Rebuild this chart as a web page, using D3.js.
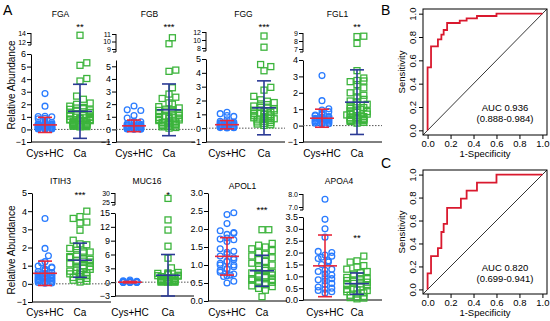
<!DOCTYPE html>
<html>
<head>
<meta charset="utf-8">
<script src="https://cdn.jsdelivr.net/npm/d3@7"></script>
<style>
  body { margin: 0; background: #fff; }
  text { font-family: "Liberation Sans", Arial, sans-serif; }
</style>
</head>
<body>
<div id="container"></div>
<script>
// data
const proteins = ['FGA', 'FGB', 'FGG', 'FGL1', 'ITIH3', 'MUC16', 'APOL1', 'APOA4']
const groups = ['Cys+HC', 'Ca']
const stars = ['**', '***', '***', '**', '***', '*', '***', '**']

const fgaCys = [2.85, 1.85, 1.05, 1.02, 1.0, 0.88, 0.85, 0.6, 0.55, 0.5, 0.45, 0.42, 0.4, 0.38, 0.35, 0.32, 0.3, 0.28, 0.25, 0.22, 0.2, 0.18, 0.15, 0.12, 0.1, 0.08, 0.06, 0.05, 0.04, 0.03, 0.02]
const fgaCa = [13.5, 5.3, 5.1, 4.05, 3.85, 2.65, 2.4, 2.1, 2.0, 1.85, 1.75, 1.7, 1.65, 1.6, 1.55, 1.45, 1.4, 1.35, 1.3, 1.25, 1.2, 1.15, 1.1, 1.05, 1.0, 0.95, 0.9, 0.85, 0.8, 0.78, 0.75, 0.7, 0.68, 0.65, 0.6, 0.58, 0.55, 0.52, 0.5, 0.48, 0.45, 0.42, 0.4, 0.38, 0.35, 0.32, 0.3, 0.28, 0.25, 0.22, 0.2]
const fgbCys = [1.85, 1.55, 1.5, 1.1, 0.9, 0.65, 0.6, 0.55, 0.45, 0.4, 0.38, 0.35, 0.32, 0.3, 0.28, 0.25, 0.22, 0.2, 0.18, 0.15, 0.12, 0.1, 0.08, 0.06, 0.05, 0.04, 0.03, 0.02, 0.01]
const fgbCa = [10.5, 9.7, 4.7, 4.6, 3.3, 2.8, 2.55, 2.45, 2.1, 2.0, 1.8, 1.7, 1.6, 1.55, 1.5, 1.45, 1.4, 1.3, 1.25, 1.2, 1.1, 1.05, 1.0, 0.95, 0.9, 0.85, 0.8, 0.75, 0.7, 0.65, 0.6, 0.58, 0.55, 0.5, 0.45, 0.42, 0.4, 0.35, 0.3, 0.28, 0.25, 0.2, 0.15, 0.1]
const fggCys = [1.15, 1.05, 0.92, 0.85, 0.6, 0.5, 0.45, 0.4, 0.38, 0.35, 0.32, 0.3, 0.28, 0.25, 0.22, 0.2, 0.18, 0.15, 0.12, 0.1, 0.08, 0.06, 0.05, 0.04, 0.03, 0.02]
const fggCa = [11.0, 8.2, 4.6, 4.45, 4.15, 2.95, 2.75, 2.3, 2.05, 1.95, 1.85, 1.75, 1.7, 1.6, 1.5, 1.45, 1.4, 1.3, 1.25, 1.2, 1.15, 1.1, 1.05, 1.0, 0.95, 0.9, 0.85, 0.8, 0.75, 0.7, 0.68, 0.65, 0.6, 0.55, 0.5, 0.45, 0.4, 0.35, 0.3, 0.25, 0.2]
const fgl1Cys = [3.05, 1.52, 1.02, 0.95, 0.85, 0.75, 0.7, 0.65, 0.6, 0.55, 0.52, 0.5, 0.48, 0.45, 0.42, 0.4, 0.38, 0.35, 0.32, 0.3, 0.28, 0.25, 0.22, 0.2, 0.18, 0.15, 0.12, 0.1]
const fgl1Ca = [8.6, 8.55, 7.7, 3.35, 2.9, 2.75, 2.72, 2.68, 2.5, 2.3, 2.05, 2.0, 1.85, 1.75, 1.6, 1.5, 1.45, 1.3, 1.25, 1.2, 1.1, 1.05, 1.0, 0.95, 0.9, 0.85, 0.8, 0.75, 0.7, 0.65, 0.6, 0.55, 0.5, 0.48, 0.45, 0.42, 0.4, 0.38, 0.35, 0.32, 0.3, 0.28, 0.25, 0.2, 0.15]
const itih3Cys = [3.6, 1.95, 1.55, 1.22, 1.15, 0.98, 0.92, 0.88, 0.82, 0.78, 0.72, 0.68, 0.62, 0.58, 0.55, 0.5, 0.48, 0.45, 0.42, 0.4, 0.38, 0.35, 0.32, 0.3, 0.28, 0.25, 0.22, 0.2, 0.18, 0.15, 0.12, 0.1, 0.08, 0.05, 0.03]
const itih3Ca = [4.0, 3.7, 3.6, 3.4, 3.35, 2.95, 2.4, 2.2, 2.15, 2.05, 1.95, 1.85, 1.8, 1.75, 1.7, 1.6, 1.5, 1.45, 1.4, 1.35, 1.3, 1.25, 1.2, 1.15, 1.1, 1.0, 0.95, 0.9, 0.85, 0.8, 0.75, 0.7, 0.65, 0.6, 0.55, 0.5, 0.45, 0.4, 0.35, 0.3, 0.25, 0.2, 0.15, 0.1]
const muc16Cys = [0.45, 0.3, 0.2, 0.15, 0.12, 0.1, 0.08, 0.06, 0.05, 0.04, 0.03, 0.02, 0.02, 0.01, 0.01, 0.0, 0.0, 0.0, 0.0, 0.0, 0.0, 0.0, 0.0, 0.0, 0.0]
const muc16Ca = [27, 13.5, 11.3, 7.8, 5.2, 3.1, 2.1, 2.0, 1.9, 1.8, 1.6, 1.5, 1.4, 1.3, 1.2, 1.1, 1.0, 0.9, 0.8, 0.7, 0.6, 0.5, 0.45, 0.4, 0.35, 0.3, 0.25, 0.2, 0.15, 0.1, 0.08, 0.05, 0.03, 0.02, 0.01]
const apol1Cys = [2.45, 2.4, 2.15, 1.95, 1.9, 1.88, 1.85, 1.75, 1.72, 1.7, 1.65, 1.45, 1.38, 1.35, 1.3, 1.25, 1.2, 1.15, 1.1, 1.1, 1.05, 1.0, 1.0, 0.95, 0.9, 0.88, 0.85, 0.8, 0.75, 0.72, 0.7, 0.68, 0.55, 0.5]
const apol1Ca = [1.98, 1.98, 1.6, 1.55, 1.5, 1.45, 1.4, 1.35, 1.3, 1.25, 1.2, 1.15, 1.1, 1.05, 1.0, 0.95, 0.9, 0.88, 0.85, 0.8, 0.78, 0.75, 0.72, 0.7, 0.68, 0.65, 0.62, 0.6, 0.58, 0.55, 0.52, 0.5, 0.48, 0.45, 0.42, 0.4, 0.35, 0.3, 0.12]
const apoa4Cys = [7.6, 3.4, 3.0, 2.65, 2.05, 2.0, 1.9, 1.85, 1.8, 1.75, 1.65, 1.6, 1.5, 1.3, 1.25, 1.2, 1.1, 1.05, 0.95, 0.9, 0.85, 0.8, 0.7, 0.65, 0.55, 0.5, 0.45, 0.4, 0.35, 0.3]
const apoa4Ca = [1.85, 1.65, 1.6, 1.45, 1.4, 1.3, 1.2, 1.15, 1.1, 1.05, 1.0, 0.95, 0.9, 0.85, 0.82, 0.8, 0.75, 0.7, 0.68, 0.65, 0.6, 0.55, 0.5, 0.45, 0.42, 0.4, 0.35, 0.3, 0.25, 0.2, 0.15, 0.12, 0.1, 0.08, 0.05]

const cysValues = [fgaCys, fgbCys, fggCys, fgl1Cys, itih3Cys, muc16Cys, apol1Cys, apoa4Cys]
const caValues = [fgaCa, fgbCa, fggCa, fgl1Ca, itih3Ca, muc16Ca, apol1Ca, apoa4Ca]

// mean and SD as drawn in the figure
const meanCys = [0.36, 0.28, 0.25, 0.45, 0.58, 0.0, 1.24, 1.44]
const sdCys = [0.6, 0.46, 0.3, 0.55, 0.67, 0.15, 0.52, 1.3]
const meanCa = [1.44, 1.55, 1.47, 1.43, 1.3, 1.5, 0.84, 0.69]
const sdCa = [2.15, 2.05, 1.95, 1.97, 0.94, 4.5, 0.43, 0.45]

const lowTicks = [
  [-1, 0, 1, 2, 3, 4, 5, 6], [-1, 0, 1, 2, 3, 4, 5], [-1, 0, 1, 2, 3, 4, 5], [-1, 0, 1, 2, 3, 4],
  [-1, 0, 1, 2, 3, 4, 5], [-3, 0, 3, 6, 9, 12, 15], [0, 0.5, 1, 1.5, 2, 2.5, 3], [0, 0.5, 1, 1.5, 2, 2.5, 3, 3.5]
]
const highTicks = [[12, 14], [9, 10, 11], [8, 10, 12], [7, 8, 9], [], [25, 30], [], [7, 8]]

const rocLabels = ['B', 'C']
const rocFpr = [
  [0, 0, 0.03, 0.09, 0.12, 0.14, 0.17, 0.28, 0.34, 0.43, 0.6, 1],
  [0, 0, 0.03, 0.09, 0.12, 0.14, 0.17, 0.29, 0.34, 0.43, 0.6, 1]
]
const rocTpr = [
  [0, 0.54, 0.72, 0.78, 0.82, 0.86, 0.92, 0.94, 0.96, 0.98, 1, 1],
  [0, 0.14, 0.29, 0.36, 0.5, 0.57, 0.71, 0.79, 0.86, 0.93, 1, 1]
]
const aucText = ['AUC 0.936', 'AUC 0.820']
const ciText = ['(0.888-0.984)', '(0.699-0.941)']
const rocTicks = [0, 0.2, 0.4, 0.6, 0.8, 1.0]

// layout
const width = 550
const height = 321
const layout = [
  { ax: 31, c: [14, 49], lo: [-1, 6], loPx: [142, 54], hi: [12, 14], hiPx: [42, 33], titleY: 17, starY: 30, catY: 157 },
  { ax: 116, c: [18, 53], lo: [-1, 5.5], loPx: [142, 60], hi: [9, 11], hiPx: [49, 34], titleY: 17, starY: 30, catY: 157 },
  { ax: 206, c: [21, 58], lo: [-1, 5], loPx: [142, 59], hi: [8, 12], hiPx: [48, 32], titleY: 17, starY: 30, catY: 157 },
  { ax: 303, c: [19, 54], lo: [-1, 4], loPx: [142, 60], hi: [7, 9], hiPx: [49, 33], titleY: 17, starY: 30, catY: 157 },
  { ax: 32, c: [13, 48], lo: [-1, 5], loPx: [302, 193], titleY: 184, starY: 198, catY: 316 },
  { ax: 115, c: [15, 53], lo: [-3, 15], loPx: [296, 213], hi: [25, 30], hiPx: [202, 193], titleY: 184, starY: 198, catY: 316 },
  { ax: 208, c: [19, 54], lo: [0, 3], loPx: [301, 193], titleY: 189, starY: 213, catY: 316 },
  { ax: 303, c: [22, 54], lo: [0, 3.5], loPx: [300, 217], hi: [7, 8], hiPx: [207, 194], titleY: 184, starY: 241, catY: 316 }
]
const blue = '#2a7cff'
const green = '#3cb43c'
const red = '#e8283c'
const navy = '#2b3a96'
const tickFont = 9
const hiFont = 7

const svg = d3.select('#container')
  .append('svg')
  .attr('width', width)
  .attr('height', height)
  .style('background', '#ffffff')

// spread points sideways so they don't sit on top of each other
function swarm(vals, yf, cx, r, half) {
  const pts = vals.map((v) => ({ v, y: yf(v) })).sort((a, b) => b.y - a.y)
  const offs = [0]
  for (let k = 1; k * r <= half; k++) offs.push(k * r, -k * r)
  const placed = []
  pts.forEach((p) => {
    let best = 0
    let bestHit = Infinity
    for (const o of offs) {
      let hit = 0
      for (const q of placed) {
        const dx = o - q.dx
        const dy = p.y - q.y
        if (dx * dx + dy * dy < 4 * r * r) hit++
      }
      if (hit < bestHit) { bestHit = hit; best = o; if (hit === 0) break }
    }
    p.dx = best
    placed.push(p)
  })
  return pts.map((p) => ({ x: cx + p.dx, y: p.y }))
}

proteins.forEach((name, i) => {
  const L = layout[i]
  const g = svg.append('g')
  const xEnd = L.ax + 79
  const yLow = d3.scaleLinear().domain(L.lo).range(L.loPx)
  const yHigh = L.hi ? d3.scaleLinear().domain(L.hi).range(L.hiPx) : null
  const yOf = (v) => (yHigh && v > L.lo[1]) ? yHigh(v) : yLow(v)
  const fmt = i >= 6 ? d3.format('.1f') : d3.format('d')

  // left axis, lower part
  const axLow = g.append('g')
    .attr('transform', `translate(${L.ax},0)`)
    .call(d3.axisLeft(yLow).tickValues(lowTicks[i]).tickFormat(fmt).tickSize(4).tickSizeOuter(0))
  axLow.selectAll('.tick text').attr('font-size', tickFont)

  // left axis, upper part of the broken axis
  if (yHigh) {
    const axHigh = g.append('g')
      .attr('transform', `translate(${L.ax},0)`)
      .call(d3.axisLeft(yHigh).tickValues(highTicks[i]).tickFormat(fmt).tickSize(4).tickSizeOuter(0))
    axHigh.select('.domain').remove()
    axHigh.selectAll('.tick text').attr('font-size', hiFont)
    axHigh.append('line')
      .attr('x1', 0).attr('x2', 0)
      .attr('y1', L.hiPx[1]).attr('y2', L.hiPx[0] + 3)
      .attr('stroke', '#000')
    axHigh.append('line')
      .attr('x1', 0).attr('x2', -3)
      .attr('y1', L.hiPx[0] + 3).attr('y2', L.hiPx[0] + 3)
      .attr('stroke', '#000')
  }
  g.selectAll('.tick text')
    .attr('font-family', '"Liberation Sans", Arial, sans-serif')
    .attr('x', -5)
  g.selectAll('.domain, .tick line').attr('stroke', '#000')

  // x axis line
  g.append('line')
    .attr('x1', L.ax).attr('x2', xEnd)
    .attr('y1', L.loPx[0]).attr('y2', L.loPx[0])
    .attr('stroke', '#000')

  // dotted zero line
  if (L.lo[0] < 0) {
    g.append('line')
      .attr('x1', L.ax).attr('x2', xEnd)
      .attr('y1', yLow(0)).attr('y2', yLow(0))
      .attr('stroke', '#555')
      .attr('stroke-dasharray', '1.5,1.5')
  }

  const cx = [L.ax + L.c[0], L.ax + L.c[1]]

  // Cys+HC points (open circles)
  g.selectAll('.cys')
    .data(swarm(cysValues[i], yOf, cx[0], 3.4, 10))
    .enter()
    .append('circle')
    .attr('cx', (d) => d.x)
    .attr('cy', (d) => d.y)
    .attr('r', 2.9)
    .attr('fill', 'none')
    .attr('stroke', blue)
    .attr('stroke-width', 1.3)

  // Ca points (open squares)
  g.selectAll('.ca')
    .data(swarm(caValues[i], yOf, cx[1], 3.4, 11))
    .enter()
    .append('rect')
    .attr('x', (d) => d.x - 3)
    .attr('y', (d) => d.y - 3)
    .attr('width', 6)
    .attr('height', 6)
    .attr('fill', 'none')
    .attr('stroke', green)
    .attr('stroke-width', 1.3)

  // mean +/- SD
  const bars = [
    { x: cx[0], m: meanCys[i], s: sdCys[i], col: red },
    { x: cx[1], m: meanCa[i], s: sdCa[i], col: navy }
  ]
  bars.forEach((b) => {
    const eg = g.append('g').attr('stroke', b.col).attr('stroke-width', 1.6)
    eg.append('line').attr('x1', b.x).attr('x2', b.x).attr('y1', yLow(b.m - b.s)).attr('y2', yLow(b.m + b.s))
    eg.append('line').attr('x1', b.x - 12).attr('x2', b.x + 12).attr('y1', yLow(b.m)).attr('y2', yLow(b.m))
    eg.append('line').attr('x1', b.x - 7).attr('x2', b.x + 7).attr('y1', yLow(b.m + b.s)).attr('y2', yLow(b.m + b.s))
    eg.append('line').attr('x1', b.x - 7).attr('x2', b.x + 7).attr('y1', yLow(b.m - b.s)).attr('y2', yLow(b.m - b.s))
  })

  // title, stars, category labels
  g.append('text')
    .attr('x', (cx[0] + cx[1]) / 2 - 2)
    .attr('y', L.titleY)
    .attr('text-anchor', 'middle')
    .attr('font-size', 8.5)
    .text(name)
  g.append('text')
    .attr('x', cx[1])
    .attr('y', L.starY)
    .attr('text-anchor', 'middle')
    .attr('font-size', 9.5)
    .text(stars[i])
  groups.forEach((gr, k) => {
    g.append('text')
      .attr('x', cx[k])
      .attr('y', L.catY)
      .attr('text-anchor', 'middle')
      .attr('font-size', 10)
      .text(gr)
  })
})

// y axis titles
;[85, 250].forEach((cy) => {
  svg.append('text')
    .attr('transform', `translate(15,${cy}) rotate(-90)`)
    .attr('text-anchor', 'middle')
    .attr('font-size', 10)
    .text('Relative Abundance')
})

svg.append('text').attr('x', 3).attr('y', 15).attr('font-size', 14).text('A')

// ROC panels
const rocBox = [{ x0: 423, x1: 547, y0: 9, y1: 135 }, { x0: 423, x1: 547, y0: 170, y1: 294 }]
const aucY = [111, 271]

rocLabels.forEach((lab, i) => {
  const b = rocBox[i]
  const g = svg.append('g')
  const x = d3.scaleLinear().domain([-0.04, 1.04]).range([b.x0, b.x1])
  const y = d3.scaleLinear().domain([-0.04, 1.04]).range([b.y1, b.y0])

  g.append('rect')
    .attr('x', b.x0).attr('y', b.y0)
    .attr('width', b.x1 - b.x0).attr('height', b.y1 - b.y0)
    .attr('fill', 'none').attr('stroke', '#000').attr('stroke-width', 1)

  // diagonal reference line
  g.append('line')
    .attr('x1', x(-0.04)).attr('y1', y(-0.04))
    .attr('x2', x(1.04)).attr('y2', y(1.04))
    .attr('stroke', '#000').attr('stroke-width', 0.8)

  const xa = g.append('g')
    .attr('transform', `translate(0,${b.y1})`)
    .call(d3.axisBottom(x).tickValues(rocTicks).tickFormat(d3.format('.1f')).tickSize(4).tickSizeOuter(0))
  xa.select('.domain').remove()
  xa.selectAll('text').attr('font-size', 9.5).attr('font-family', '"Liberation Sans", Arial, sans-serif').attr('y', 5)
  xa.selectAll('line').attr('stroke', '#000')

  const ya = g.append('g')
    .attr('transform', `translate(${b.x0},0)`)
    .call(d3.axisLeft(y).tickValues(rocTicks).tickFormat(d3.format('.1f')).tickSize(4).tickSizeOuter(0))
  ya.select('.domain').remove()
  ya.selectAll('line').attr('stroke', '#000')
  ya.selectAll('text')
    .attr('font-size', 9.5)
    .attr('font-family', '"Liberation Sans", Arial, sans-serif')
    .attr('x', null).attr('dy', null)
    .attr('text-anchor', 'middle')
    .attr('transform', 'translate(-7,0) rotate(-90)')

  const line = d3.line()
    .x((d) => x(d[0]))
    .y((d) => y(d[1]))
    .curve(d3.curveStepAfter)
  g.append('path')
    .datum(rocFpr[i].map((f, k) => [f, rocTpr[i][k]]))
    .attr('d', line)
    .attr('fill', 'none')
    .attr('stroke', '#d9192e')
    .attr('stroke-width', 1.8)

  g.append('text')
    .attr('x', 505).attr('y', aucY[i])
    .attr('text-anchor', 'middle').attr('font-size', 9.5)
    .text(aucText[i])
  g.append('text')
    .attr('x', 505).attr('y', aucY[i] + 11)
    .attr('text-anchor', 'middle').attr('font-size', 9.5)
    .text(ciText[i])

  g.append('text')
    .attr('x', (b.x0 + b.x1) / 2).attr('y', b.y1 + 22)
    .attr('text-anchor', 'middle').attr('font-size', 9.5)
    .text('1-Specificity')
  g.append('text')
    .attr('transform', `translate(405,${(b.y0 + b.y1) / 2}) rotate(-90)`)
    .attr('text-anchor', 'middle').attr('font-size', 9.5)
    .text('Sensitivity')

  svg.append('text')
    .attr('x', 381).attr('y', i === 0 ? 15 : 168)
    .attr('font-size', 14)
    .text(lab)
})
</script>
</body>
</html>
